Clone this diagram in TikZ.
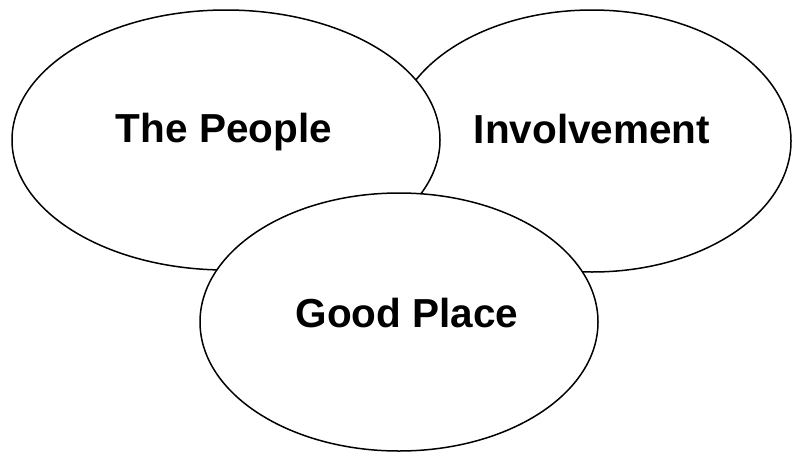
\documentclass[tikz,border=0pt]{standalone}
\usepackage{fontspec}
\newfontfamily\lblfont{Liberation Sans}
\usetikzlibrary{shapes.geometric,positioning}
\tikzset{
  circ/.style = {draw, ellipse, fill=white, line width=1.5pt, inner sep=0pt},
  lbl/.style  = {anchor=base, inner sep=0pt,
                 font=\lblfont\bfseries\fontsize{40.5}{48}\selectfont}
}

\begin{document}
\begin{tikzpicture}[x=1pt,y=-1pt]
\useasboundingbox (0,0) rectangle (792,453);
% the three sets, back to front
\node[circ, minimum width=398pt, minimum height=262pt] (inv) at (592,141) {};
\node[circ, minimum width=428pt, minimum height=260pt] (people) at (226,140) {};
\node[circ, minimum width=398pt, minimum height=258pt] (place) at (399,322) {};
% labels
\node[lbl] (tpeople) at ([xshift=-2pt,yshift=-2pt]people.center) {The People};
\node[lbl] (tinv) at ([yshift=-2pt]inv.center) {Involvement};
\node[lbl] (tplace) at ([xshift=8pt,yshift=-5pt]place.center) {Good Place};
\end{tikzpicture}
\end{document}
